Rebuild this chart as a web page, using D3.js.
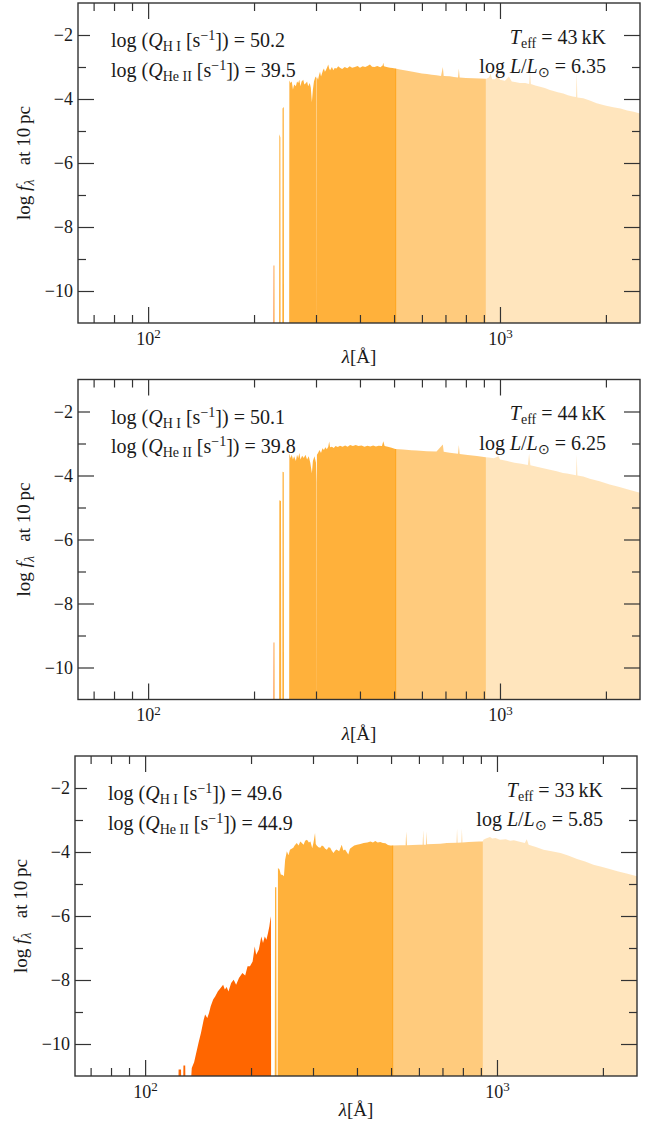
<!DOCTYPE html>
<html>
<head>
<meta charset="utf-8">
<script src="https://cdn.jsdelivr.net/npm/d3@7"></script>
<style>
    body { margin: 0; background: #fff; }
    svg text { font-family: "Liberation Serif", "Times New Roman", serif; fill: #1a1a1a; }
    .tick line { stroke: #333; stroke-width: 1.2; }
</style>
</head>
<body>
<div id="chart"></div>
<script>
// ---- data ----
// wavelength [Å] and log f_lambda for each model
const wave1 = [220, 227, 227.4, 228.6, 229, 235.6, 236, 237.6, 238, 240.6, 241, 243, 243.4, 251.6, 252, 254, 256, 258, 260, 263, 265, 267, 269, 271, 273, 276, 278, 281, 283, 285, 288, 290, 292, 294, 296, 299, 300.8, 301.2, 301.6, 304, 306, 308, 310, 312, 314, 316, 318, 320, 323, 325, 327, 329, 333, 336, 339, 343, 347, 351, 356, 362, 368, 374, 380, 387, 394, 400, 407, 414, 420, 427, 433, 440, 448, 457, 464, 466, 468, 476, 487, 495, 504, 520, 540, 560, 580, 600, 620, 640, 660, 680, 688, 692, 720, 740, 760, 764, 768, 800, 840, 880, 911, 914, 930, 940, 950, 968, 990, 1000, 1033, 1060, 1080, 1103, 1140, 1180, 1210, 1217, 1224, 1260, 1300, 1340, 1387, 1420, 1460, 1513, 1560, 1610, 1645, 1652, 1659, 1724, 1800, 1883, 1990, 2099, 2200, 2300, 2400, 2500];
const flux1 = [-12, -12, -9.2, -9.2, -12, -12, -5.1, -5.2, -12, -12, -4.3, -4.25, -12, -12, -3.42, -3.5, -3.45, -3.7, -3.55, -3.6, -3.45, -3.5, -3.4, -3.6, -3.45, -3.4, -3.55, -3.5, -3.45, -3.6, -3.5, -3.65, -4.1, -3.7, -3.45, -3.3, -3.35, -12, -3.3, -3.4, -3.25, -3.15, -3.3, -3.2, -3.1, -3.05, -3.15, -3.1, -3.0, -2.92, -3.05, -3.1, -3.0, -3.1, -3.03, -3.05, -2.98, -3.02, -3.06, -3.0, -3.04, -2.98, -3.02, -3.0, -2.97, -3.02, -2.98, -3.0, -2.97, -2.92, -2.99, -3.0, -2.97, -3.01, -2.95, -2.87, -2.98, -3.0, -3.02, -3.03, -3.05, -3.08, -3.11, -3.14, -3.17, -3.2, -3.22, -3.24, -3.26, -3.28, -3.0, -3.28, -3.29, -3.31, -3.33, -3.05, -3.33, -3.34, -3.35, -3.36, -3.37, -3.37, -3.33, -3.2, -3.38, -3.38, -3.25, -3.4, -3.43, -3.3, -3.45, -3.47, -3.5, -3.5, -3.53, -3.13, -3.53, -3.58, -3.62, -3.66, -3.72, -3.75, -3.79, -3.83, -3.88, -3.92, -3.94, -3.16, -3.95, -3.98, -4.05, -4.13, -4.2, -4.26, -4.3, -4.36, -4.4, -4.45];

const wave2 = [220, 227, 227.4, 228.6, 229, 235.6, 236, 238.6, 239, 240.6, 241, 243, 243.4, 251.6, 252, 254, 256, 258, 260, 263, 265, 267, 269, 271, 274, 277, 280, 283, 286, 289, 292, 294, 297, 300, 301, 301.4, 301.8, 304, 307, 310, 313, 316, 319, 322, 325, 327, 329, 333, 337, 341, 346, 351, 357, 363, 369, 375, 382, 389, 396, 404, 412, 420, 428, 436, 444, 452, 462, 466, 470, 480, 492, 504, 530, 560, 580, 620, 660, 688, 692, 720, 760, 764, 768, 810, 860, 911, 930, 960, 990, 1000, 1050, 1100, 1150, 1200, 1210, 1220, 1300, 1387, 1450, 1510, 1550, 1645, 1652, 1660, 1724, 1800, 1919, 2050, 2186, 2340, 2500];
const flux2 = [-12, -12, -9.22, -9.22, -12, -12, -4.77, -4.8, -12, -12, -3.88, -3.9, -12, -12, -3.31, -3.45, -3.35, -3.5, -3.4, -3.55, -3.35, -3.45, -3.3, -3.5, -3.38, -3.45, -3.35, -3.5, -3.4, -3.6, -3.93, -3.55, -3.4, -3.6, -4.2, -12, -3.35, -3.3, -3.2, -3.3, -3.15, -3.2, -3.12, -3.18, -3.1, -2.94, -3.12, -3.1, -3.14, -3.08, -3.11, -3.07, -3.1, -3.06, -3.1, -3.05, -3.08, -3.05, -3.08, -3.06, -3.1, -3.07, -3.09, -3.06, -3.09, -3.07, -3.08, -2.93, -3.08, -3.1, -3.13, -3.17, -3.19, -3.21, -3.22, -3.24, -3.25, -3.03, -3.26, -3.29, -3.32, -3.05, -3.33, -3.36, -3.39, -3.43, -3.44, -3.46, -3.4, -3.5, -3.55, -3.6, -3.63, -3.67, -3.31, -3.68, -3.75, -3.82, -3.87, -3.92, -3.94, -3.99, -3.35, -4.0, -4.03, -4.1, -4.18, -4.28, -4.36, -4.45, -4.54];

const wave3 = [63, 120, 124, 124.5, 126.5, 127, 128, 128.5, 130, 130.5, 133.6, 135.7, 137.8, 139.7, 141.8, 144.1, 146.7, 148.1, 150.2, 151.9, 153.6, 156.1, 158.3, 160.9, 164.7, 166.6, 168.5, 170.5, 172.5, 175.6, 178.5, 181.4, 184.8, 189, 192.5, 195.5, 198.6, 202.1, 204.9, 206.8, 210.5, 213.9, 216.3, 218.8, 221.2, 223.5, 225.5, 226.8, 227.8, 228.2, 233.5, 234, 236, 236.5, 238, 238.5, 241, 243, 246, 248, 250, 252.8, 255.5, 258, 263.7, 266, 269.7, 273, 276, 279, 282, 285, 288.5, 292, 295, 298.5, 301, 304, 305.5, 307.4, 311, 314.5, 318, 321, 325, 328.5, 332, 335.8, 339, 343, 347, 350, 356, 362, 366, 370, 374, 378, 382, 386, 393, 400, 409, 418, 428, 437, 444, 451, 458, 466, 474, 482, 490, 498, 504, 530, 550, 552, 555, 576, 600, 615, 617, 619, 628, 630, 632, 660, 690, 720, 768, 770, 772, 793, 795, 797, 830, 860, 890, 911, 915, 930, 955, 970, 990, 1020, 1060, 1090, 1117, 1160, 1200, 1215, 1230, 1290, 1356, 1430, 1516, 1600, 1689, 1780, 1880, 1980, 2090, 2200, 2350, 2500];
const flux3 = [-12, -12, -12, -10.8, -10.8, -12, -12, -10.67, -10.67, -12, -12, -10.75, -10.57, -10.28, -9.97, -9.66, -9.24, -9.08, -9.19, -9.03, -8.82, -8.61, -8.51, -8.36, -8.22, -8.15, -8.3, -8.22, -8.36, -8.09, -7.99, -8.15, -7.94, -7.78, -7.86, -7.57, -7.57, -7.42, -6.95, -7.21, -7.05, -6.64, -6.84, -6.64, -6.74, -6.53, -6.32, -6.12, -6.01, -12, -12, -5.1, -5.1, -12, -12, -4.5, -4.55, -4.7, -4.72, -4.76, -4.24, -3.98, -4.1, -3.93, -3.87, -3.8, -3.72, -3.8, -3.67, -3.72, -3.77, -3.65, -3.62, -3.7, -3.67, -3.88, -3.7, -3.41, -3.75, -3.8, -3.85, -3.87, -3.8, -3.82, -3.9, -3.93, -3.85, -3.87, -3.95, -4.03, -3.95, -3.92, -3.98, -3.77, -3.95, -3.92, -4.0, -4.08, -3.9, -3.86, -3.8, -3.77, -3.75, -3.72, -3.7, -3.67, -3.7, -3.66, -3.7, -3.69, -3.72, -3.73, -3.78, -3.8, -3.8, -3.79, -3.79, -3.36, -3.79, -3.78, -3.77, -3.77, -3.31, -3.77, -3.77, -3.36, -3.76, -3.75, -3.74, -3.72, -3.71, -3.27, -3.71, -3.7, -3.27, -3.7, -3.69, -3.68, -3.67, -3.67, -3.62, -3.58, -3.53, -3.58, -3.56, -3.62, -3.6, -3.65, -3.63, -3.68, -3.72, -3.6, -3.77, -3.84, -3.93, -3.98, -4.03, -4.12, -4.22, -4.3, -4.4, -4.46, -4.53, -4.6, -4.68, -4.76];

// annotation values
const logQHI = ['50.2', '50.1', '49.6'];
const logQHeII = ['39.5', '39.8', '44.9'];
const teffKK = ['43', '44', '33'];
const logLum = ['6.35', '6.25', '5.85'];

// axis ticks
const xMajor = [100, 1000];
const xMinor = [70, 80, 90, 200, 300, 400, 500, 600, 700, 800, 900, 2000];
const yMajor = [-10, -8, -6, -4, -2];
const yMinor = [-9, -7, -5, -3];

// ionising bands: He II (<228), He I (228-504), H I (504-912), non-ionising
const bandEdges = [60, 228, 504, 912, 2600];

// ---- layout ----
const W = 662, H = 1124;
const plotW = 562, plotH = 320;
const panels = [
    { left: 78, top: 3, wave: wave1, flux: flux1 },
    { left: 78, top: 379.5, wave: wave2, flux: flux2 },
    { left: 75, top: 756, wave: wave3, flux: flux3 },
];
const bands = [
    { lo: bandEdges[0], hi: bandEdges[1], fill: '#ff6600', op: 1 },
    { lo: bandEdges[1], hi: 507, fill: '#ff9900', op: 0.77 },
    { lo: bandEdges[2], hi: bandEdges[3], fill: '#ff9900', op: 0.51 },
    { lo: bandEdges[3], hi: bandEdges[4], fill: '#ff9900', op: 0.26 },
];

const svg = d3.select('#chart').append('svg')
    .attr('width', W)
    .attr('height', H)
    .attr('font-family', 'Liberation Serif, serif');

const x = d3.scaleLog().domain([63.2, 2500]).range([0, plotW]);
const y = d3.scaleLinear().domain([-11, -1]).range([plotH, 0]);

const area = d3.area()
    .x(d => x(d[0]))
    .y0(y(-12))
    .y1(d => y(d[1]));

const fs = 20;      // annotation font size
const fsTick = 18;  // tick labels
const fsLab = 19;   // axis titles
const fsSub = 14;   // sub/superscripts

panels.forEach((p, i) => {
    const g = svg.append('g').attr('transform', `translate(${p.left},${p.top})`);
    const data = d3.zip(p.wave, p.flux);

    // one clip per band (restricted to the plot box)
    bands.forEach((b, j) => {
        const id = `clip-${i}-${j}`;
        g.append('clipPath').attr('id', id)
            .append('rect')
            .attr('x', Math.max(0, x(b.lo)))
            .attr('width', Math.min(plotW, x(b.hi)) - Math.max(0, x(b.lo)))
            .attr('y', 0)
            .attr('height', plotH);

        g.append('path')
            .datum(data)
            .attr('clip-path', `url(#${id})`)
            .attr('fill', b.fill)
            .attr('fill-opacity', b.op)
            .attr('d', area);
    });

    // axes, ticks pointing inward on all four sides
    const addAxis = (axis, tr, vals, size, fmt) => {
        const a = g.append('g')
            .attr('transform', tr)
            .call(axis.tickValues(vals).tickSize(-size).tickFormat(fmt))
        a.select('.domain').remove();
        a.attr('font-family', null).attr('font-size', null);
        return a;
    };
    const none = () => '';

    const xb = addAxis(d3.axisBottom(x).tickPadding(9), `translate(0,${plotH})`, xMajor, 16, none);
    addAxis(d3.axisBottom(x), `translate(0,${plotH})`, xMinor, 8, none);
    addAxis(d3.axisTop(x), 'translate(0,0)', xMajor, 16, none);
    addAxis(d3.axisTop(x), 'translate(0,0)', xMinor, 8, none);

    xb.selectAll('.tick text').each(function (d) {
        const t = d3.select(this).attr('font-size', fsTick + 'px').attr('fill', '#1a1a1a');
        t.append('tspan').text('10');
        t.append('tspan').attr('font-size', '13px').attr('dy', '-0.5em')
            .text(Math.round(Math.log10(d)));
    });

    addAxis(d3.axisLeft(y).tickPadding(5), 'translate(0,0)', yMajor, 16, d3.format('d'))
        .selectAll('.tick text').attr('font-size', fsTick + 'px').attr('fill', '#1a1a1a');
    addAxis(d3.axisLeft(y), 'translate(0,0)', yMinor, 8, none);
    addAxis(d3.axisRight(y), `translate(${plotW},0)`, yMajor, 16, none);
    addAxis(d3.axisRight(y), `translate(${plotW},0)`, yMinor, 8, none);

    // frame
    g.append('rect')
        .attr('width', plotW).attr('height', plotH)
        .attr('fill', 'none').attr('stroke', '#333').attr('stroke-width', 1.4);

    // white box behind the left annotation (hides the tip of the -2 tick)
    g.append('rect').attr('x', 12).attr('y', 20).attr('width', 14).attr('height', 60).attr('fill', '#fff');

    // left annotation
    const qLine = (yy, sub, val) => {
        const t = g.append('text').attr('x', 33).attr('y', yy).attr('font-size', fs + 'px');
        t.append('tspan').text('log (');
        t.append('tspan').attr('font-style', 'italic').text('Q');
        t.append('tspan').attr('font-size', fsSub + 'px').attr('dy', 4).text(sub);
        t.append('tspan').attr('dy', -4).text(' [s');
        t.append('tspan').attr('font-size', fsSub + 'px').attr('dy', -7).text('\u22121');
        t.append('tspan').attr('dy', 7).text(`]) = ${val}`);
    };
    qLine(44, 'H I', logQHI[i]);
    qLine(73.5, 'He II', logQHeII[i]);

    // right annotation
    const t1 = g.append('text').attr('x', 528).attr('y', 40.5).attr('font-size', fs + 'px').attr('text-anchor', 'end');
    t1.append('tspan').attr('font-style', 'italic').text('T');
    t1.append('tspan').attr('font-size', fsSub + 'px').attr('dy', 4).text('eff');
    t1.append('tspan').attr('dy', -4).text(` = ${teffKK[i]}\u2009kK`);

    const t2 = g.append('text').attr('x', 528).attr('y', 70).attr('font-size', fs + 'px').attr('text-anchor', 'end');
    t2.append('tspan').text('log ');
    t2.append('tspan').attr('font-style', 'italic').text('L');
    t2.append('tspan').text('/');
    t2.append('tspan').attr('font-style', 'italic').text('L');
    t2.append('tspan').attr('font-size', fsSub + 'px').attr('dy', 4).text('\u2299');
    t2.append('tspan').attr('dy', -4).text(` = ${logLum[i]}`);

    // axis titles
    const xl = g.append('text')
        .attr('x', plotW / 2).attr('y', plotH + 40)
        .attr('font-size', fsLab + 'px').attr('text-anchor', 'middle');
    xl.append('tspan').attr('font-style', 'italic').text('\u03bb');
    xl.append('tspan').text('[\u00c5]');

    const yl = g.append('text')
        .attr('transform', `translate(-48,${plotH / 2}) rotate(-90)`)
        .attr('font-size', fsLab + 'px').attr('text-anchor', 'middle');
    yl.append('tspan').text('log ');
    yl.append('tspan').attr('font-style', 'italic').text('f');
    yl.append('tspan').attr('font-style', 'italic').attr('font-size', fsSub + 'px').attr('dy', 4).text('\u03bb');
    yl.append('tspan').attr('dy', -4).text('\u2002 at 10\u2009pc');
});
</script>
</body>
</html>
